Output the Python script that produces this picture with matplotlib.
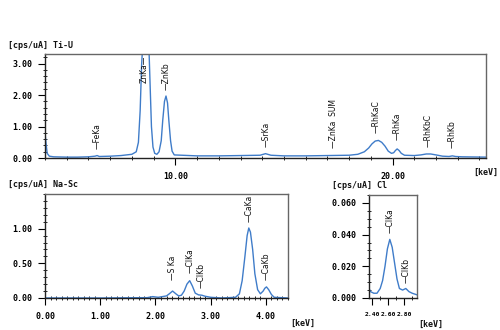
import numpy as np
import matplotlib.pyplot as plt
from matplotlib.ticker import MultipleLocator, FixedLocator, FormatStrFormatter

# Ti-U condition spectrum (keV, cps/uA)
tiu_kev = [4.0, 4.05, 4.1, 4.2, 4.4, 5.0, 5.5, 6.0, 6.3, 6.4, 6.5, 7.0, 7.5, 8.0,
           8.2, 8.3, 8.38, 8.45, 8.5, 8.78, 8.83, 8.9, 8.97, 9.05, 9.15, 9.25, 9.35,
           9.42, 9.5, 9.57, 9.64, 9.7, 9.78, 9.85, 9.95, 11.0, 12.0, 13.0, 13.9,
           14.05, 14.15, 14.25, 14.4, 15.0, 16.0, 17.0, 18.0, 18.4, 18.7, 18.9, 19.05,
           19.2, 19.35, 19.5, 19.65, 19.8, 19.95, 20.05, 20.13, 20.21, 20.3, 20.4,
           20.55, 21.0, 21.3, 21.55, 21.75, 22.0, 22.3, 22.6, 22.75, 22.9, 23.2, 24.3]
tiu_cps = [0.80, 0.45, 0.15, 0.06, 0.04, 0.03, 0.03, 0.04, 0.06, 0.08, 0.05, 0.06, 0.08, 0.12,
           0.20, 0.50, 1.50, 3.00, 3.60, 3.60, 2.50, 1.00, 0.35, 0.15, 0.12, 0.20, 0.55,
           1.20, 1.80, 1.97, 1.75, 1.20, 0.55, 0.22, 0.10, 0.07, 0.07, 0.08, 0.09,
           0.12, 0.14, 0.12, 0.09, 0.07, 0.07, 0.08, 0.09, 0.12, 0.20, 0.32, 0.45,
           0.54, 0.56, 0.50, 0.38, 0.22, 0.15, 0.17, 0.24, 0.29, 0.24, 0.15,
           0.09, 0.08, 0.10, 0.13, 0.13, 0.10, 0.06, 0.05, 0.07, 0.05, 0.04, 0.03]

# Na-Sc condition spectrum
nasc_kev = [0.0, 1.0, 1.85, 1.95, 2.05, 2.2, 2.25, 2.31, 2.37, 2.42, 2.47, 2.52, 2.57,
            2.62, 2.67, 2.72, 2.78, 2.84, 2.9, 3.0, 3.2, 3.45, 3.52, 3.57, 3.62, 3.66,
            3.69, 3.72, 3.76, 3.8, 3.85, 3.9, 3.95, 3.98, 4.01, 4.05, 4.1, 4.15, 4.4]
nasc_cps = [0.0, 0.0, 0.005, 0.02, 0.01, 0.03, 0.06, 0.10, 0.06, 0.03, 0.04, 0.10, 0.20,
            0.25, 0.17, 0.07, 0.045, 0.04, 0.025, 0.01, 0.0, 0.01, 0.06, 0.25, 0.60, 0.90,
            1.01, 0.95, 0.70, 0.35, 0.12, 0.06, 0.10, 0.14, 0.16, 0.12, 0.05, 0.01, 0.0]

# Cl condition spectrum
cl_kev = [2.36, 2.38, 2.42, 2.46, 2.50, 2.53, 2.56, 2.59, 2.62, 2.65, 2.68, 2.71,
          2.74, 2.78, 2.82, 2.86, 2.90, 2.96]
cl_cps = [0.006, 0.004, 0.003, 0.003, 0.006, 0.011, 0.020, 0.031, 0.037, 0.032, 0.022,
          0.012, 0.006, 0.005, 0.006, 0.004, 0.003, 0.002]

# peak markers: name, energy, height of marker base
tiu_peaks = ["FeKa", "ZnKb", "SrKa", "ZnKa  SUM", "RhKaC", "RhKa", "RhKbC", "RhKb"]
tiu_peak_kev = [6.40, 9.57, 14.16, 17.27, 19.25, 20.21, 21.65, 22.72]
tiu_peak_y = [0.29, 2.16, 0.35, 0.32, 0.79, 0.57, 0.35, 0.32]

nasc_peaks = ["S Ka", "ClKa", "ClKb", "CaKa", "CaKb"]
nasc_peak_kev = [2.31, 2.62, 2.82, 3.69, 4.01]
nasc_peak_y = [0.26, 0.36, 0.15, 1.09, 0.26]

cl_peaks = ["ClKa", "ClKb"]
cl_peak_kev = [2.62, 2.82]
cl_peak_y = [0.041, 0.0095]

LINE = "#3f7cc9"
FONT = "DejaVu Sans Mono"


def style_axes(ax, xmaj, xmin, yticks, ymin, xfmt, yfmt):
    ax.xaxis.set_major_locator(MultipleLocator(xmaj))
    ax.xaxis.set_minor_locator(MultipleLocator(xmin))
    ax.yaxis.set_major_locator(FixedLocator(yticks))
    ax.yaxis.set_minor_locator(MultipleLocator(ymin))
    ax.xaxis.set_major_formatter(FormatStrFormatter(xfmt))
    ax.yaxis.set_major_formatter(FormatStrFormatter(yfmt))
    ax.tick_params(which="major", direction="out", length=5, width=0.8, pad=5,
                   labelsize=6)
    ax.tick_params(which="minor", direction="inout", length=3, width=0.6)
    ax.tick_params(axis="y", which="major", pad=4)
    for lab in ax.get_xticklabels() + ax.get_yticklabels():
        lab.set_fontfamily(FONT)
        lab.set_fontweight("bold")
    for side in ("left", "bottom"):
        ax.spines[side].set_color("#222222")
        ax.spines[side].set_linewidth(1.0)
    for side in ("top", "right"):
        ax.spines[side].set_color("#666666")
        ax.spines[side].set_linewidth(1.0)


def mark_peaks(ax, names, kev, ys):
    for n, x, y in zip(names, kev, ys):
        ax.text(x, y, "\u2014" + n, rotation=90, ha="center", va="bottom",
                fontsize=5.5, family="DejaVu Sans", color="#111111")


fig = plt.figure(figsize=(5.0, 3.3), dpi=100)

ax1 = fig.add_axes([0.09, 0.521, 0.882, 0.315])
ax1.plot(tiu_kev, tiu_cps, color=LINE, lw=1.0)
ax1.set_xlim(4.0, 24.3)
ax1.set_ylim(0, 3.3)
style_axes(ax1, 10, 1, [0, 1, 2, 3], 0.2, "%.2f", "%.2f")
mark_peaks(ax1, tiu_peaks, tiu_peak_kev, tiu_peak_y)
ax1.text(8.55, 3.25, "ZnKa\u2014", rotation=90, ha="center", va="top",
         fontsize=5.5, family="DejaVu Sans", color="#111111")

ax2 = fig.add_axes([0.09, 0.097, 0.486, 0.315])
ax2.plot(nasc_kev, nasc_cps, color=LINE, lw=1.0)
ax2.set_xlim(0, 4.4)
ax2.set_ylim(0, 1.5)
style_axes(ax2, 1, 0.1, [0, 0.5, 1.0], 0.1, "%.2f", "%.2f")
mark_peaks(ax2, nasc_peaks, nasc_peak_kev, nasc_peak_y)

ax3 = fig.add_axes([0.738, 0.097, 0.096, 0.312])
ax3.plot(cl_kev, cl_cps, color=LINE, lw=1.0)
ax3.set_xlim(2.36, 2.96)
ax3.set_ylim(0, 0.065)
style_axes(ax3, 0.2, 0.1, [0, 0.02, 0.04, 0.06], 0.005, "%.2f", "%.3f")
# narrow panel: the energy labels sit shoulder to shoulder
for lab in ax3.get_xticklabels():
    lab.set_fontsize(4.6)
mark_peaks(ax3, cl_peaks, cl_peak_kev, cl_peak_y)

# axis captions
cap = dict(fontsize=6, family=FONT, fontweight="bold", color="#111111")
fig.text(8 / 500, 1 - 45 / 330, "[cps/uA] Ti-U", va="center", ha="left", **cap)
fig.text(8 / 500, 1 - 185 / 330, "[cps/uA] Na-Sc", va="center", ha="left", **cap)
fig.text(332 / 500, 1 - 186 / 330, "[cps/uA] Cl", va="center", ha="left", **cap)
fig.text(473 / 500, 1 - 172 / 330, "[keV]", va="center", ha="left", **cap)
fig.text(290 / 500, 1 - 323 / 330, "[keV]", va="center", ha="left", **cap)
fig.text(418 / 500, 1 - 324 / 330, "[keV]", va="center", ha="left", **cap)

fig.savefig("out.png", dpi=100, facecolor="white")
